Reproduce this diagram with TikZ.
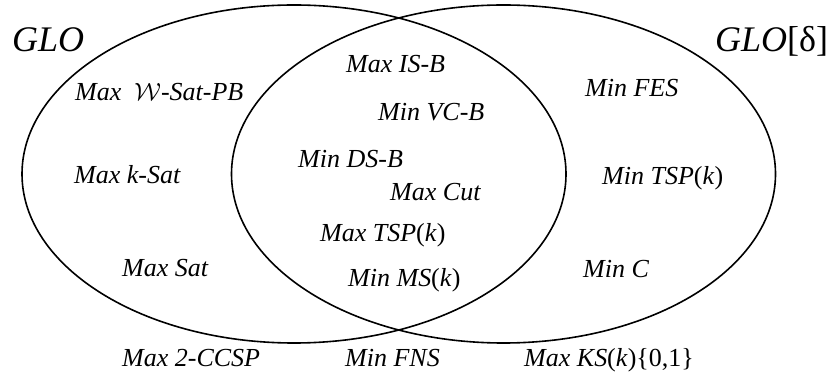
\documentclass[tikz,border=0pt]{standalone}
\usepackage{fontspec}
\setmainfont{Liberation Serif}
\begin{document}
\begin{tikzpicture}[x=1pt,y=1pt,
  setline/.style={line width=1.6pt},
  lbl/.style={anchor=base west, inner sep=0pt, font=\fontsize{26}{30}\selectfont\itshape},
  title/.style={anchor=base west, inner sep=0pt, font=\fontsize{36}{40}\selectfont}]
\useasboundingbox (0,0) rectangle (834,385);
% the two overlapping classes
\draw[setline] (294,211) ellipse [x radius=272, y radius=169];
\draw[setline] (503.5,211) ellipse [x radius=272, y radius=169];
% class names
\node[title] (glo) at (12,333) {\textit{GLO}};
\node[title] (glod) at (715,333) {\textit{GLO}[δ]};
% GLO only
\node[lbl] (wsat) at (75,284) {Max \ $\mathcal{W}$-Sat-PB};
\node[lbl] (ksat) at (74,201) {Max k-Sat};
\node[lbl] (sat) at (122,108) {Max Sat};
% both classes
\node[lbl] (isb) at (346,312) {Max IS-B};
\node[lbl] (vcb) at (378,264) {Min VC-B};
\node[lbl] (dsb) at (298,217) {Min DS-B};
\node[lbl] (cut) at (390,184) {Max Cut};
\node[lbl] (mtsp) at (320,143) {Max TSP\textup{(}k\textup{)}};
\node[lbl] (ms) at (348,98) {Min MS\textup{(}k\textup{)}};
% GLO[delta] only
\node[lbl] (fes) at (585,288) {Min FES};
\node[lbl] (ntsp) at (602,200) {Min TSP\textup{(}k\textup{)}};
\node[lbl] (minc) at (583,107) {Min C};
% outside both
\node[lbl] (ccsp) at (122,18) {Max 2-CCSP};
\node[lbl] (fns) at (345,18) {Min FNS};
\node[lbl] (ks) at (524,18) {Max KS\textup{(}k\textup{)\{0,1\}}};
\end{tikzpicture}
\end{document}
